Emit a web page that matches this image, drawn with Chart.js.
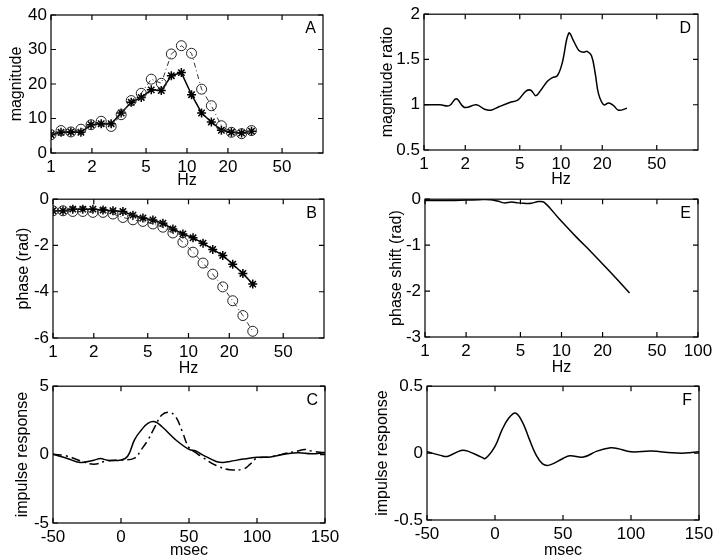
<!DOCTYPE html>
<html>
<head>
<meta charset="utf-8">
<script src="https://cdn.jsdelivr.net/npm/chart.js@4/dist/chart.umd.min.js"></script>
<style>
body{margin:0;background:#fff;width:720px;height:560px;position:relative;overflow:hidden}
canvas{position:absolute}
</style>
</head>
<body>
<canvas id="chartA" width="360" height="190" style="left:0;top:0"></canvas>
<canvas id="chartD" width="360" height="189" style="left:360px;top:0"></canvas>
<canvas id="chartB" width="360" height="193" style="left:0;top:185px"></canvas>
<canvas id="chartE" width="360" height="192" style="left:360px;top:185px"></canvas>
<canvas id="chartC" width="360" height="188" style="left:0;top:372px"></canvas>
<canvas id="chartF" width="360" height="188" style="left:360px;top:372px"></canvas>
<script>
// ======================
// DATA
// ======================

// frequencies of the measured points (A, B)
const freqs = [1.00, 1.185, 1.40, 1.66, 1.97, 2.34, 2.77, 3.28, 3.89, 4.61, 5.46,
               6.47, 7.67, 9.09, 10.8, 12.8, 15.1, 17.9, 21.2, 25.2, 29.8];

const magStar   = [5.3, 6.0, 6.1, 6.0, 8.2, 8.5, 8.5, 11.6, 14.7, 16.1, 18.3,
                   18.1, 22.4, 23.3, 16.9, 11.6, 9.0, 6.6, 6.0, 5.8, 6.3];
const magCircle = [5.3, 6.5, 6.1, 6.9, 8.2, 9.2, 7.7, 11.1, 15.2, 17.3, 21.4,
                   20.2, 28.7, 31.1, 28.9, 18.5, 13.7, 7.9, 6.0, 5.6, 6.5];

const phaseStar   = [-0.50, -0.50, -0.43, -0.43, -0.43, -0.47, -0.50, -0.53, -0.69, -0.81, -0.90,
                     -1.04, -1.29, -1.50, -1.67, -1.90, -2.17, -2.43, -2.81, -3.21, -3.67];
const phaseCircle = [-0.50, -0.50, -0.53, -0.53, -0.57, -0.57, -0.64, -0.79, -0.89, -0.96, -1.07,
                     -1.21, -1.46, -1.86, -2.29, -2.76, -3.24, -3.79, -4.39, -5.03, -5.71];

// D: magnitude ratio
const ratioHz  = [1.0, 1.31, 1.53, 1.72, 1.98, 2.41, 2.77, 3.09, 3.55, 4.32, 4.83, 5.55, 6.03,
                  6.55, 7.12, 7.96, 8.65, 9.40, 10.2, 11.4, 12.4, 13.5, 14.7, 15.5, 16.7,
                  17.8, 18.8, 20.5, 22.3, 24.2, 26.3, 30.3];
const ratioVal = [1.0, 1.0, 0.99, 1.065, 0.97, 1.0, 0.95, 0.94, 0.98, 1.03, 1.05, 1.15, 1.16,
                  1.10, 1.16, 1.26, 1.30, 1.32, 1.46, 1.79, 1.70, 1.60, 1.58, 1.59, 1.54,
                  1.34, 1.12, 1.00, 1.02, 0.99, 0.94, 0.96];

// E: phase shift
const shiftHz  = [1.0, 1.5, 2.0, 2.5, 3.0, 3.4, 3.8, 4.3, 4.8, 5.3, 6.0, 6.8, 7.48, 9.64, 12.8, 16.9, 22.5, 31.5];
const shiftVal = [-0.03, -0.03, -0.02, -0.01, -0.01, -0.04, -0.08, -0.06, -0.08, -0.09, -0.09, -0.05, -0.07,
                  -0.43, -0.82, -1.18, -1.57, -2.04];

// C: impulse responses
const tC      = [-50, -40, -30, -20, -15, -10, 0, 5, 10, 15, 20, 25, 30, 40, 50, 55, 60, 70, 75, 80, 90, 100, 110, 120, 130, 140, 150];
const solidC  = [0.02, -0.26, -0.57, -0.41, -0.29, -0.41, -0.40, -0.10, 1.1, 1.8, 2.3, 2.4, 2.05, 1.1, 0.38, 0.26, -0.02,
                 -0.50, -0.57, -0.50, -0.33, -0.20, -0.17, 0.02, 0.14, 0.07, 0.14];
const tC2     = [-50, -40, -30, -20, -10, 0, 10, 15, 20, 25, 30, 35, 40, 45, 50, 55, 60, 70, 80, 90, 95, 100, 110, 120, 130, 135, 140, 150];
const dashC   = [0.02, -0.10, -0.45, -0.70, -0.45, -0.40, -0.26, 0.38, 1.1, 2.05, 2.9, 3.1, 2.8, 1.7, 0.5, 0.14, -0.20,
                 -0.80, -1.10, -1.05, -0.70, -0.26, -0.17, 0.07, 0.26, 0.38, 0.26, 0.14];

// F: impulse response
const tF   = [-50, -40, -35, -25, -20, -10, -7, 0, 5, 10, 15, 20, 25, 30, 35, 40, 50, 55, 65, 75, 85, 90, 100, 115, 130, 140, 150];
const valF = [0.01, -0.017, -0.025, 0.02, 0.015, -0.03, -0.04, 0.05, 0.17, 0.26, 0.30, 0.235, 0.11, -0.01, -0.08, -0.09,
              -0.04, -0.02, -0.03, 0.015, 0.04, 0.035, 0.01, 0.015, 0.002, 0, 0.01];

// tick values
const hzTicks     = [1, 2, 5, 10, 20, 50];
const hzTicksE    = [1, 2, 5, 10, 20, 50, 100];
const msecTicks   = [-50, 0, 50, 100, 150];
const magTicks    = [0, 10, 20, 30, 40];
const ratioTicks  = [0.5, 1, 1.5, 2];
const phaseTicks  = [-6, -4, -2, 0];
const shiftTicks  = [-3, -2, -1, 0];
const impTicksC   = [-5, 0, 5];
const impTicksF   = [-0.5, 0, 0.5];

// ======================
// SETTINGS
// ======================

Chart.defaults.font.family = '"Liberation Sans", Arial, sans-serif';
Chart.defaults.color = "#000";

const FONT_TICK = 17;
const FONT_TITLE = 16;

function pts(xs, ys){
    return xs.map((x, i) => ({x: x, y: ys[i]}));
}

// box, inward ticks, panel letter
const framePlugin = {
    id: "frame",
    afterDraw(chart, args, opts){
        const ctx = chart.ctx;
        const a = chart.chartArea;
        const sx = chart.scales.x;
        const sy = chart.scales.y;
        const len = 5;

        ctx.save();
        ctx.strokeStyle = "#000";
        ctx.lineWidth = 1.2;
        ctx.strokeRect(a.left, a.top, a.right - a.left, a.bottom - a.top);

        ctx.beginPath();
        sx.ticks.forEach(t => {
            const p = sx.getPixelForValue(t.value);
            ctx.moveTo(p, a.bottom); ctx.lineTo(p, a.bottom - len);
            ctx.moveTo(p, a.top);    ctx.lineTo(p, a.top + len);
        });
        sy.ticks.forEach(t => {
            const p = sy.getPixelForValue(t.value);
            ctx.moveTo(a.left, p);  ctx.lineTo(a.left + len, p);
            ctx.moveTo(a.right, p); ctx.lineTo(a.right - len, p);
        });
        ctx.stroke();

        ctx.fillStyle = "#000";
        ctx.font = FONT_TITLE + 'px "Liberation Sans", Arial, sans-serif';
        ctx.textAlign = "right";
        ctx.textBaseline = "middle";
        ctx.fillText(opts.letter, a.right - 7, a.top + 14);
        ctx.restore();
    }
};

function axis(type, min, max, ticks, title, size, isX){
    return {
        type: type,
        min: min,
        max: max,
        grid: {display: false, drawTicks: false, tickLength: 0},
        border: {display: false},
        afterBuildTicks: s => { s.ticks = ticks.map(v => ({value: v})); },
        afterFit: s => { if(isX){ s.height = size; } else { s.width = size; } },
        ticks: {
            autoSkip: false,
            maxRotation: 0,
            padding: 4,
            font: {size: FONT_TICK},
            callback: v => String(v)
        },
        title: {
            display: true,
            text: title,
            padding: 0,
            font: {size: FONT_TITLE}
        }
    };
}

function makeChart(id, p){
    return new Chart(document.getElementById(id), {
        type: "line",
        data: {datasets: p.datasets},
        options: {
            responsive: false,
            animation: false,
            devicePixelRatio: 1,
            layout: {padding: {left: p.pad[0], top: p.pad[1], right: p.pad[2], bottom: 0}},
            plugins: {
                legend: {display: false},
                tooltip: {enabled: false},
                frame: {letter: p.letter}
            },
            scales: {
                x: p.x,
                y: p.y
            }
        },
        plugins: [framePlugin]
    });
}

const starSet = (data) => ({
    data: data,
    borderColor: "#000",
    borderWidth: 1.5,
    pointStyle: "star",
    pointRadius: 4.5,
    pointBorderWidth: 1.5,
    pointBorderColor: "#000",
    tension: 0
});

const circleSet = (data) => ({
    data: data,
    borderColor: "#333",
    borderWidth: 1,
    borderDash: [5, 3, 1, 3],
    pointStyle: "circle",
    pointRadius: 5,
    pointBorderWidth: 1,
    pointBorderColor: "#222",
    pointBackgroundColor: "rgba(0,0,0,0)",
    tension: 0
});

const lineSet = (data, dash) => ({
    data: data,
    borderColor: "#000",
    borderWidth: 1.5,
    borderDash: dash || [],
    pointRadius: 0,
    tension: 0.4
});

// ======================
// PANELS
// ======================

makeChart("chartA", {
    letter: "A",
    pad: [7, 15, 37],
    datasets: [circleSet(pts(freqs, magCircle)), starSet(pts(freqs, magStar))],
    x: axis("logarithmic", 1, 100, hzTicks, "Hz", 37, true),
    y: axis("linear", 0, 40, magTicks, "magnitude", 44, false)
});

makeChart("chartD", {
    letter: "D",
    pad: [18, 13, 22],
    datasets: [lineSet(pts(ratioHz, ratioVal))],
    x: axis("logarithmic", 1, 100, hzTicks, "Hz", 39, true),
    y: axis("linear", 0.5, 2, ratioTicks, "magnitude ratio", 46, false)
});

makeChart("chartB", {
    letter: "B",
    pad: [14, 13, 36],
    datasets: [circleSet(pts(freqs, phaseCircle)), starSet(pts(freqs, phaseStar))],
    x: axis("logarithmic", 1, 100, hzTicks, "Hz", 40, true),
    y: axis("linear", -6, 0, phaseTicks, "phase (rad)", 39, false)
});

makeChart("chartE", {
    letter: "E",
    pad: [27, 12, 22],
    datasets: [lineSet(pts(shiftHz, shiftVal))],
    x: axis("logarithmic", 1, 100, hzTicksE, "Hz", 40, true),
    y: axis("linear", -3, 0, shiftTicks, "phase shift (rad)", 38, false)
});

makeChart("chartC", {
    letter: "C",
    pad: [13, 12, 35],
    datasets: [
        lineSet(pts(tC, solidC)),
        lineSet(pts(tC2, dashC), [9, 4, 2, 4])
    ],
    x: axis("linear", -50, 150, msecTicks, "msec", 37, true),
    y: axis("linear", -5, 5, impTicksC, "impulse response", 40, false)
});

makeChart("chartF", {
    letter: "F",
    pad: [13, 12, 21],
    datasets: [lineSet(pts(tF, valF))],
    x: axis("linear", -50, 150, msecTicks, "msec", 40, true),
    y: axis("linear", -0.5, 0.5, impTicksF, "impulse response", 54, false)
});
</script>
</body>
</html>
